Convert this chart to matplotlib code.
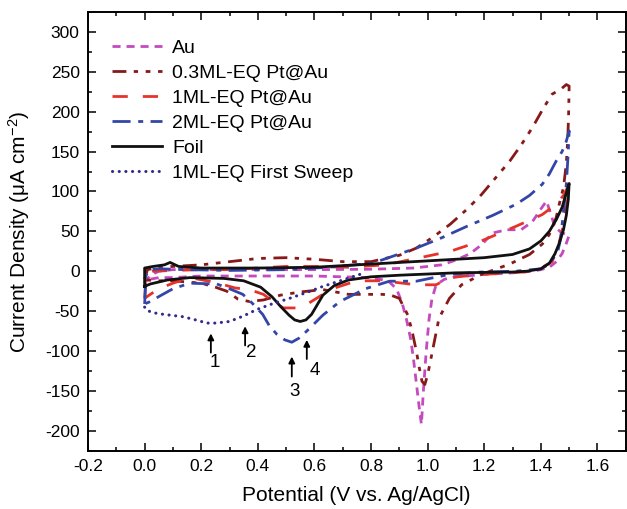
import numpy as np
import matplotlib
matplotlib.use('Agg')
import matplotlib.pyplot as plt

plt.rcParams['font.family'] = ['Liberation Sans', 'DejaVu Sans']
plt.rcParams['mathtext.fontset'] = 'custom'
plt.rcParams['mathtext.rm'] = 'Liberation Sans'
plt.rcParams['mathtext.default'] = 'regular'
plt.rcParams['axes.unicode_minus'] = False
plt.rcParams['lines.scale_dashes'] = False

# Datos (potencial en V, corriente en uA/cm2)
# Au
au_v = [0.0, 0.02, 0.05, 0.1, 0.2, 0.4, 0.6, 0.8, 0.95, 1.05, 1.1, 1.15, 1.19, 1.23, 1.28, 1.33,
        1.37, 1.40, 1.42, 1.435, 1.45, 1.475, 1.5,
        1.49, 1.475, 1.455, 1.43, 1.40, 1.37, 1.3, 1.2, 1.1, 1.06, 1.03, 1.015, 1.005, 0.995,
        0.985, 0.978, 0.97, 0.96, 0.95, 0.94, 0.925, 0.91, 0.89, 0.86, 0.8, 0.6, 0.4, 0.2,
        0.1, 0.05, 0.02, 0.0]
au_j = [-15, -5, 0, 2, 2, 2, 2, 2.5, 4, 8, 14, 22, 33, 48, 52, 52,
        62, 78, 88, 72, 55, 48, 45,
        35, 22, 12, 5, 2, 0, -2, -4, -7, -10, -17, -35, -60, -100,
        -150, -192, -170, -140, -110, -85, -60, -40, -22, -12, -8, -6, -6, -6,
        -8, -8, -10, -15]

# 0.3ML-EQ Pt@Au
pt03_v = [0.0, 0.01, 0.05, 0.1, 0.2, 0.3, 0.4, 0.5, 0.6, 0.7, 0.8, 0.9, 0.96, 1.02, 1.08, 1.14,
          1.19, 1.24, 1.29, 1.33, 1.37, 1.41, 1.44, 1.47, 1.49, 1.5,
          1.498, 1.495, 1.49, 1.48, 1.465, 1.454, 1.43, 1.405, 1.36, 1.29, 1.19, 1.12, 1.077,
          1.04, 1.017, 1.0, 0.99, 0.98, 0.97, 0.96, 0.945, 0.93, 0.9, 0.87, 0.84, 0.72, 0.63,
          0.55, 0.48, 0.42, 0.37, 0.33, 0.29, 0.25, 0.2, 0.1, 0.04, 0.01, 0.0]
pt03_j = [-10, 2, 5, 6, 8, 12, 16, 17, 15, 12, 12, 20, 29, 43, 59, 78,
          96, 117, 138, 158, 180, 205, 222, 228, 234, 232,
          195, 165, 135, 105, 84, 67, 46, 34, 21, 9, -4, -17, -34,
          -59, -100, -130, -142, -138, -120, -100, -75, -55, -34, -30, -29, -29, -23,
          -26, -30, -36, -38, -35, -25, -20, -15, -12, -12, -11, -10]

# 1ML-EQ Pt@Au
pt1_v = [0.0, 0.005, 0.03, 0.1, 0.2, 0.3, 0.4, 0.5, 0.6, 0.72, 0.85, 0.96, 1.08, 1.19, 1.31,
         1.405, 1.454, 1.48, 1.5,
         1.495, 1.485, 1.475, 1.46, 1.44, 1.4, 1.37, 1.3, 1.19, 1.077, 1.03, 0.96, 0.84, 0.75,
         0.68, 0.63, 0.58, 0.54, 0.49, 0.45, 0.42, 0.37, 0.32, 0.25, 0.16, 0.1, 0.05, 0.02, 0.0]
pt1_j = [-34, -5, 0, 1, 2, 2, 4, 6, 6, 5, 8, 16, 25, 38, 56,
         71, 84, 95, 109,
         90, 70, 50, 30, 12, 4, 0, -2, -4, -8, -17, -17, -12, -12,
         -20, -29, -40, -46, -46, -37, -29, -23, -21, -14, -8, -15, -22, -29, -34]

# 2ML-EQ Pt@Au
pt2_v = [0.0, 0.005, 0.02, 0.05, 0.15, 0.3, 0.5, 0.65, 0.805, 0.96, 1.05, 1.137, 1.23, 1.313,
         1.36, 1.405, 1.43, 1.454, 1.475, 1.49, 1.5,
         1.497, 1.49, 1.48, 1.47, 1.46, 1.43, 1.40, 1.31, 1.19, 1.077, 0.96, 0.865, 0.78, 0.69,
         0.63, 0.573, 0.545, 0.52, 0.495, 0.467, 0.44, 0.417, 0.38, 0.347, 0.3, 0.255, 0.16,
         0.1, 0.054, 0.02, 0.0]
pt2_j = [-41, -5, 2, 3, 2, 1, 2, 5, 10, 29, 42, 56, 70, 84,
         95, 109, 122, 138, 150, 163, 176,
         150, 109, 75, 41, 25, 9, 3, 0, -1, -4, -12.5, -12.5, -22, -38,
         -55, -75, -84, -89, -86, -79, -68, -54, -40, -29, -22, -16, -15,
         -22, -31, -38, -41]

# Foil
foil_v = [0.0, 0.0, 0.03, 0.07, 0.09, 0.12, 0.2, 0.4, 0.6, 0.75, 0.9, 1.05, 1.2, 1.3, 1.36,
          1.40, 1.43, 1.455, 1.475, 1.49, 1.5,
          1.497, 1.49, 1.48, 1.465, 1.45, 1.43, 1.40, 1.35, 1.3, 1.1, 0.9, 0.8, 0.72, 0.67,
          0.63, 0.61, 0.59, 0.57, 0.55, 0.53, 0.51, 0.48, 0.45, 0.41, 0.35, 0.28, 0.16, 0.08,
          0.02, 0.0]
foil_j = [-19, 4, 6, 8, 11, 6, 4, 4, 5, 8, 11, 14, 17, 21, 28,
          38, 50, 65, 80, 98, 110,
          90, 70, 52, 35, 22, 10, 3, 0, -1, -2, -5, -7, -11, -18,
          -30, -42, -54, -61, -63, -61, -55, -44, -32, -20, -12, -9, -8, -11,
          -16, -19]

# 1ML-EQ primer barrido
first_v = [0.76, 0.7, 0.63, 0.57, 0.512, 0.45, 0.396, 0.35, 0.3, 0.25, 0.22, 0.18, 0.135,
           0.065, 0.03, 0.008, 0.0]
first_j = [-4, -11, -19, -27, -34, -41, -48, -56, -63, -65, -65, -61, -57,
           -54, -52, -49, -45]

# Flechas de los picos
arrow_v = [0.234, 0.355, 0.52, 0.573]
arrow_head = [-78, -69, -107, -86]
arrow_tail = [-102, -93, -132, -110]
arrow_labels = ['1', '2', '3', '4']
label_v = [0.249, 0.378, 0.531, 0.602]
label_j = [-115, -102, -151, -124]

fig = plt.figure(figsize=(6.27, 5.09), dpi=100)
ax = fig.add_axes([0.1404, 0.1145, 0.8576, 0.862])

lw = 2.0
ax.plot(au_v, au_j, color='#C44ABE', lw=lw, dashes=(5.8, 4.3), label='Au')
ax.plot(pt03_v, pt03_j, color='#871919', lw=lw,
        dashes=(10, 5.3, 3.1, 5.5, 3.4, 5.5), label='0.3ML-EQ Pt@Au')
ax.plot(pt1_v, pt1_j, color='#E6332A', lw=lw, dashes=(11, 10.8), label='1ML-EQ Pt@Au')
ax.plot(pt2_v, pt2_j, color='#3346A8', lw=lw, dashes=(13, 5.5, 3.6, 5.3), label='2ML-EQ Pt@Au')
ax.plot(foil_v, foil_j, color='#111111', lw=lw, label='Foil')
ax.plot(first_v, first_j, color='#322A8C', lw=2.2, dashes=(0.1, 4.7),
        dash_capstyle='round', label='1ML-EQ First Sweep')

for xv, h, t in zip(arrow_v, arrow_head, arrow_tail):
    ax.annotate('', xy=(xv, h), xytext=(xv, t),
                arrowprops=dict(arrowstyle='-|>', color='black', lw=1.3,
                                mutation_scale=9, shrinkA=0, shrinkB=0))
for txt, xv, yv in zip(arrow_labels, label_v, label_j):
    ax.text(xv, yv, txt, fontsize=13.5, ha='center', va='center')

ax.set_xlim(-0.2, 1.7)
ax.set_ylim(-225, 325)
ax.set_xticks(np.arange(-0.2, 1.61, 0.2))
ax.set_xticks(np.arange(-0.1, 1.71, 0.2), minor=True)
ax.set_yticks(np.arange(-200, 301, 50))
ax.set_yticks(np.arange(-225, 326, 50), minor=True)
ax.xaxis.set_major_formatter(plt.FormatStrFormatter('%.1f'))

ax.tick_params(which='both', direction='in', top=True, right=True, width=1.1,
               labelsize=12.5)
ax.tick_params(which='major', length=6, pad=6)
ax.tick_params(which='minor', length=3)
for sp in ax.spines.values():
    sp.set_linewidth(1.4)

ax.set_xlabel('Potential (V vs. Ag/AgCl)', fontsize=15)
ax.set_ylabel('Current Density (μA cm$^{-2}$)', fontsize=15)
ax.xaxis.set_label_coords(0.498, -0.08)
ax.yaxis.set_label_coords(-0.104, 0.5)

ax.legend(loc='upper left', bbox_to_anchor=(0.044, 0.937), frameon=False,
          fontsize=14, handlelength=2.6, handletextpad=0.5, labelspacing=0.38,
          borderpad=0, borderaxespad=0)

plt.savefig('out.png', dpi=100)
